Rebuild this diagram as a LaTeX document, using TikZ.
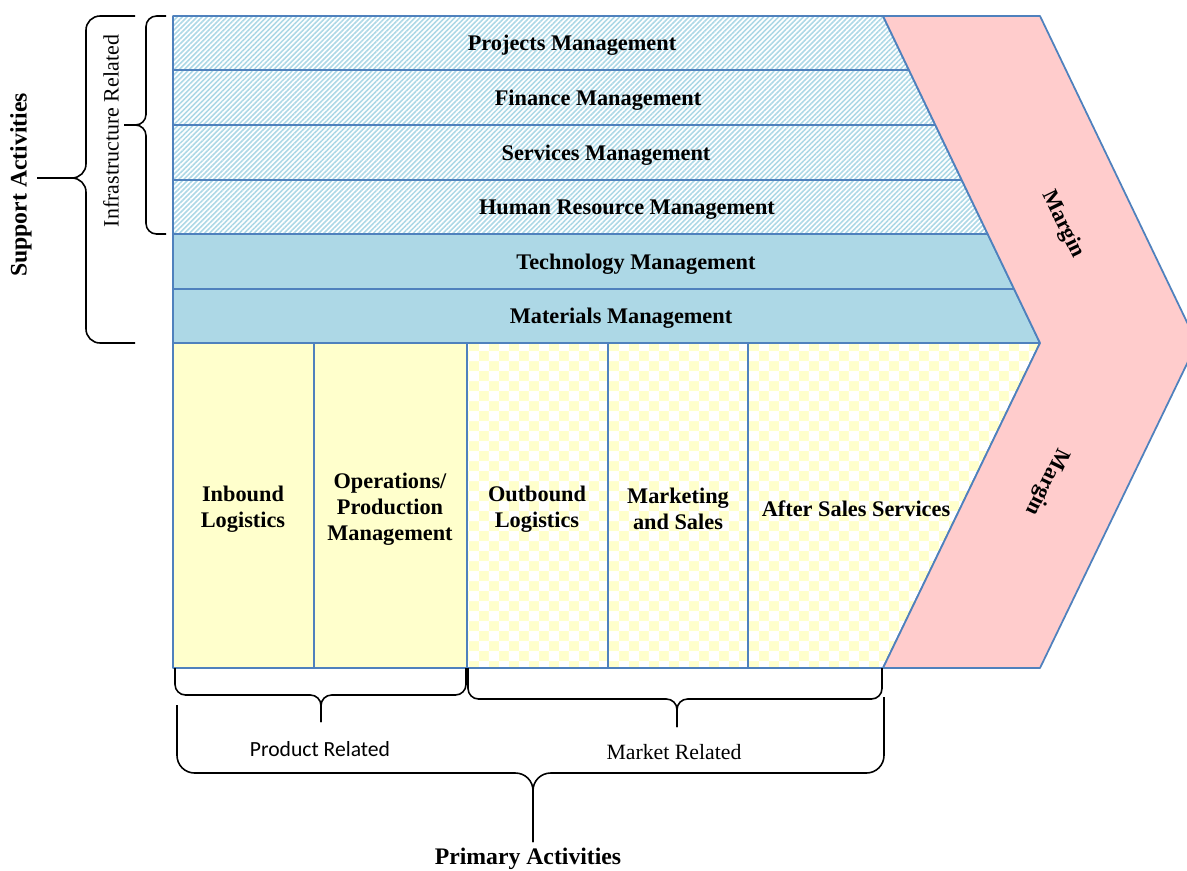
\documentclass[tikz,border=0pt]{standalone}
\usepackage{fontspec}
\setmainfont{Liberation Serif}
\newfontfamily\carlito{Carlito}
\usepackage{tikz}
\usetikzlibrary{positioning,calc,patterns,patterns.meta}

\definecolor{vcblue}{HTML}{4F81BD}
\definecolor{vclight}{HTML}{ADD8E6}
\definecolor{vcyellow}{HTML}{FFFFCC}
\definecolor{vcpink}{HTML}{FFCCCC}

\begin{document}
\begin{tikzpicture}[
  x=0.02cm, y=-0.02cm,
  cell/.style={draw=vcblue, line width=1pt, line join=round},
  hatched/.style={cell, pattern={Lines[angle=45,distance=2pt,line width=0.9pt]}, pattern color=vclight},
  plain/.style={cell, fill=vclight},
  solidy/.style={cell, fill=vcyellow},
  checky/.style={cell, preaction={fill=vcyellow}, pattern=checkerboard, pattern color=white},
  curly/.style={draw, line width=0.9pt, rounded corners=#1},
  curly/.default=8pt,
  every node/.style={inner sep=0pt},
  lbl/.style={font=\fontsize{12.7}{14.7}\selectfont\bfseries, align=center, yshift=-1.2pt}
]
\useasboundingbox (0,0) rectangle (1187,870);
\clip (0,0) rectangle (1187,870);

% --- Support activities (rows) ---
\draw[hatched] (173,16) -- (883,16) -- (908.9,70) -- (173,70) -- cycle;
\draw[hatched] (173,70) -- (908.9,70) -- (935.3,125) -- (173,125) -- cycle;
\draw[hatched] (173,125) -- (935.3,125) -- (961.7,180) -- (173,180) -- cycle;
\draw[hatched] (173,180) -- (961.7,180) -- (987.7,234) -- (173,234) -- cycle;
\draw[plain] (173,234) -- (987.7,234) -- (1014.1,289) -- (173,289) -- cycle;
\draw[plain] (173,289) -- (1014.1,289) -- (1040,343) -- (173,343) -- cycle;

\node[lbl] (proj) at (572,43) {Projects Management};
\node[lbl] (fin) at (598,98) {Finance Management};
\node[lbl] (serv) at (606,153) {Services Management};
\node[lbl] (hrm) at (627,208) {Human Resource Management};
\node[lbl] (tech) at (636,262) {Technology Management};
\node[lbl] (mat) at (621,316) {Materials Management};

% --- Primary activities (columns) ---
\draw[solidy] (173,343) rectangle (314,668);
\draw[solidy] (314,343) rectangle (467,668);
\draw[checky] (467,343) rectangle (608,668);
\draw[checky] (608,343) rectangle (748,668);
\draw[checky] (748,343) -- (1040,343) -- (883,668) -- (748,668) -- cycle;

\node[lbl] (inb) at (243,507) {Inbound\\Logistics};
\node[lbl] (ops) at (390,507) {Operations/\\Production\\Management};
\node[lbl] (outb) at (537,507) {Outbound\\Logistics};
\node[lbl] (mks) at (678,507) {Marketing\\and Sales};
\node[lbl] (asv) at (856,507) {After Sales Services};

% --- Margin chevron ---
\draw[cell, fill=vcpink] (883,16) -- (1040,16) -- (1197,343) -- (1040,668)
  -- (883,668) -- (1040,343) -- cycle;
\node[lbl, rotate=-64] (mrgA) at (1063,222) {Margin};
\node[lbl, rotate=-116] (mrgB) at (1047,480) {Margin};

% --- Left braces ---
\draw[curly] (135,16) -- (86,16) -- (86,178) -- (37,178);
\draw[curly] (135,343) -- (86,343) -- (86,178) -- (37,178);
\node[font=\fontsize{13.5}{16}\selectfont\bfseries, rotate=90] (supp) at (21,185) {Support Activities};

\draw[curly=6pt] (166,16) -- (146,16) -- (146,125) -- (124,125);
\draw[curly=6pt] (166,234) -- (146,234) -- (146,125) -- (124,125);
\node[font=\fontsize{12.5}{15}\selectfont, rotate=90] (infra) at (111,131) {Infrastructure Related};

% --- Bottom braces ---
\draw[curly=6pt] (175,668) -- (175,695) -- (321,695) -- (321,722);
\draw[curly=6pt] (466,668) -- (466,695) -- (321,695) -- (321,722);
\node[font=\carlito\fontsize{12.3}{15}\selectfont] (prod) at (320,749) {Product Related};

\draw[curly=6pt] (468,668) -- (468,699) -- (677,699) -- (677,727);
\draw[curly=6pt] (882,668) -- (882,699) -- (677,699) -- (677,727);
\node[font=\fontsize{12.4}{15}\selectfont] (mkt) at (674,752) {Market Related};

\draw[curly=10pt] (177,705) -- (177,773) -- (533,773) -- (533,842);
\draw[curly=10pt] (884,697) -- (884,773) -- (533,773) -- (533,842);
\node[font=\fontsize{13.5}{16}\selectfont\bfseries] (prim) at (528,859) {Primary Activities};

\end{tikzpicture}
\end{document}
